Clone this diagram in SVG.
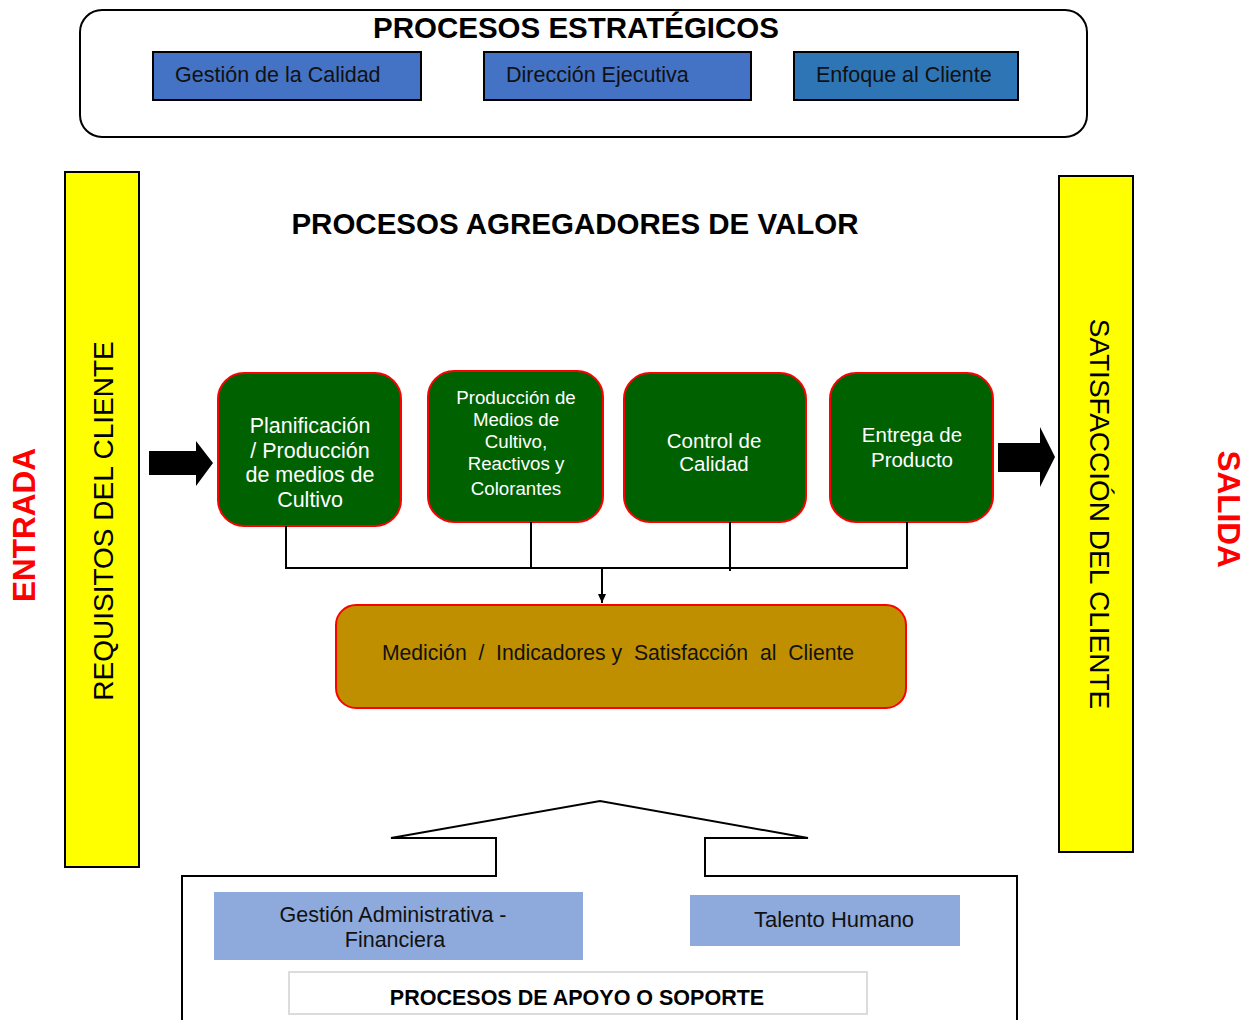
<svg xmlns="http://www.w3.org/2000/svg" width="1257" height="1020" viewBox="0 0 1257 1020">
<style>
text{font-family:"Liberation Sans",Arial,sans-serif}
.title{font-size:29.5px;font-weight:bold;fill:#000;text-anchor:middle}
.blue{stroke:#000;stroke-width:2}
.bt{font-size:21.5px;fill:#111}
.green{fill:#006100;stroke:#ff0000;stroke-width:2}
.gt{fill:#fff;text-anchor:middle}
.yellow{fill:#ffff00;stroke:#000;stroke-width:2}
.red{font-size:31.5px;font-weight:bold;fill:#ff0000;text-anchor:middle}
.conn{stroke:#000;stroke-width:2;fill:none}
.lb{fill:#8EA9DB}
</style>
<defs>
<marker id="ah" markerWidth="10" markerHeight="10" refX="9" refY="5" orient="auto" markerUnits="userSpaceOnUse">
<path d="M0,1 L9,5 L0,9 z" fill="#000"/>
</marker>
</defs>

<g id="estrategicos">
<rect x="80" y="10" width="1007" height="127" rx="22" fill="#fff" stroke="#000" stroke-width="2"/>
<text class="title" x="576" y="38">PROCESOS ESTRATÉGICOS</text>
</g>
<g id="gestion-calidad">
<rect class="blue" x="153" y="52" width="268" height="48" fill="#4472C4"/>
<text class="bt" x="175" y="82">Gestión de la Calidad</text>
</g>
<g id="direccion">
<rect class="blue" x="484" y="52" width="267" height="48" fill="#4472C4"/>
<text class="bt" x="506" y="82">Dirección Ejecutiva</text>
</g>
<g id="enfoque">
<rect class="blue" x="794" y="52" width="224" height="48" fill="#2E75B6"/>
<text class="bt" x="816" y="82">Enfoque al Cliente</text>
</g>

<g id="agregadores-titulo">
<text class="title" x="575" y="234">PROCESOS AGREGADORES DE VALOR</text>
</g>

<g id="entrada">
<text class="red" transform="translate(35,525) rotate(-90)">ENTRADA</text>
</g>
<g id="requisitos">
<rect class="yellow" x="65" y="172" width="74" height="695"/>
<text transform="translate(113,521) rotate(-90)" font-size="28" text-anchor="middle" fill="#000">REQUISITOS DEL CLIENTE</text>
</g>
<g id="satisfaccion">
<rect class="yellow" x="1059" y="176" width="74" height="676"/>
<text transform="translate(1090,514) rotate(90)" font-size="28" text-anchor="middle" fill="#000">SATISFACCIÓN DEL CLIENTE</text>
</g>
<g id="salida">
<text class="red" transform="translate(1218,509) rotate(90)">SALIDA</text>
</g>

<g id="arrow-in">
<polygon points="149,451 196,451 196,441 213,463 196,486 196,475 149,475" fill="#000"/>
</g>
<g id="arrow-out">
<polygon points="998,443 1040,443 1040,427 1055,457 1040,487 1040,472 998,472" fill="#000"/>
</g>

<g id="planificacion">
<rect class="green" x="218" y="373" width="183" height="153" rx="26"/>
<g class="gt" style="font-size:21.5px">
<text x="310" y="433">Planificación</text>
<text x="310" y="458">/ Producción</text>
<text x="310" y="482">de medios de</text>
<text x="310" y="507">Cultivo</text>
</g>
</g>
<g id="produccion">
<rect class="green" x="428" y="371" width="175" height="151" rx="26"/>
<g class="gt" style="font-size:18.7px">
<text x="516" y="404">Producción de</text>
<text x="516" y="426">Medios de</text>
<text x="516" y="448">Cultivo,</text>
<text x="516" y="470">Reactivos y</text>
<text x="516" y="495">Colorantes</text>
</g>
</g>
<g id="control">
<rect class="green" x="624" y="373" width="182" height="149" rx="26"/>
<g class="gt" style="font-size:20.5px">
<text x="714" y="448">Control de</text>
<text x="714" y="471">Calidad</text>
</g>
</g>
<g id="entrega">
<rect class="green" x="830" y="373" width="163" height="149" rx="26"/>
<g class="gt" style="font-size:20.5px">
<text x="912" y="442">Entrega de</text>
<text x="912" y="467">Producto</text>
</g>
</g>

<g id="connectors">
<path class="conn" d="M286,526 V568 H907 V522"/>
<path class="conn" d="M531,522 V568"/>
<path class="conn" d="M730,522 V571"/>
<path class="conn" d="M602,568 V603" marker-end="url(#ah)"/>
</g>

<g id="medicion">
<rect x="336" y="605" width="570" height="103" rx="20" fill="#BF8F00" stroke="#ff0000" stroke-width="2"/>
<text x="618" y="660" font-size="21.2" text-anchor="middle" fill="#111" xml:space="preserve">Medición  /  Indicadores y  Satisfacción  al  Cliente</text>
</g>

<g id="apoyo">
<polygon points="182,1022 182,876 496,876 496,838 391,838 600,801 808,838 705,838 705,876 1017,876 1017,1022" fill="#fff" stroke="#000" stroke-width="2"/>
</g>
<g id="gestion-admin">
<rect class="lb" x="214" y="892" width="369" height="68"/>
<text class="bt" x="393" y="922" text-anchor="middle">Gestión Administrativa -</text>
<text class="bt" x="395" y="947" text-anchor="middle">Financiera</text>
</g>
<g id="talento">
<rect class="lb" x="690" y="895" width="270" height="51"/>
<text class="bt" x="834" y="927" text-anchor="middle" style="font-size:22px">Talento Humano</text>
</g>
<g id="apoyo-titulo">
<rect x="289" y="972" width="578" height="42" fill="#fff" stroke="#dcdcdc" stroke-width="2"/>
<text x="577" y="1005" font-size="21.5" font-weight="bold" text-anchor="middle" fill="#000">PROCESOS DE APOYO O SOPORTE</text>
</g>
</svg>
